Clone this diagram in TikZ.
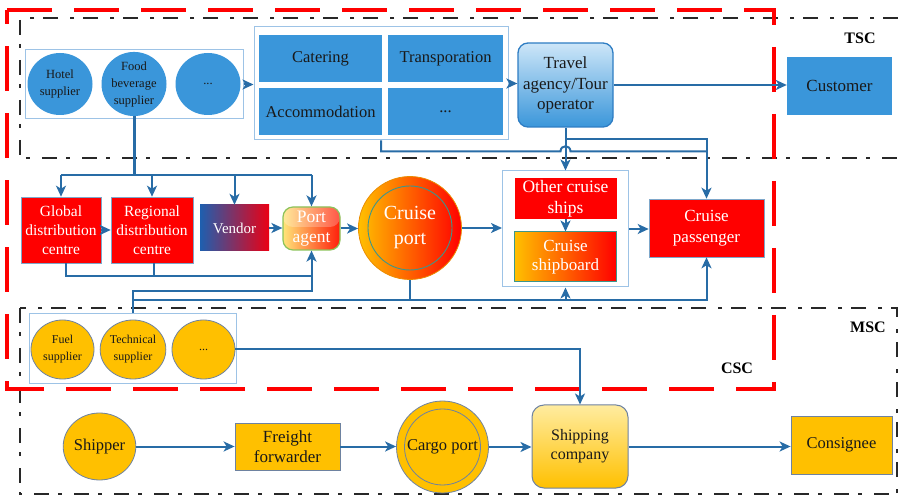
\documentclass[tikz,border=0pt]{standalone}
\usepackage{fontspec}
\setmainfont{Liberation Serif}
\usetikzlibrary{arrows.meta,shapes.geometric}
\definecolor{fillblue}{RGB}{58,150,218}
\definecolor{connblue}{RGB}{40,108,166}
\definecolor{boxline}{RGB}{157,195,230}
\definecolor{gold}{RGB}{255,192,0}
\definecolor{dashgray}{RGB}{40,40,40}
\definecolor{redc}{RGB}{255,0,0}
\definecolor{darktext}{RGB}{25,25,25}
\definecolor{goldedge}{RGB}{110,130,160}
\definecolor{tealedge}{RGB}{60,150,140}
\tikzset{
  conn/.style={draw=connblue, line width=2pt},
  arr/.style={conn, -{Stealth[length=11pt,width=10pt,inset=3pt]}},
  zone/.style={draw=dashgray, line width=1.8pt, dash pattern=on 15pt off 9pt on 4pt off 12pt},
  cscline/.style={draw=redc, line width=4pt, dash pattern=on 45pt off 22pt},
  holder/.style={draw=boxline, fill=white, line width=1pt, inner sep=0pt},
  bcirc/.style={ellipse, fill=fillblue, inner sep=0pt, align=center, text=darktext,
    minimum width=65pt, minimum height=62pt, font=\fontsize{12.5}{17}\selectfont},
  bbox/.style={rectangle, fill=fillblue, inner sep=0pt, align=center, text=darktext,
    font=\fontsize{16.5}{19}\selectfont},
  redbox/.style={rectangle, fill=redc, draw=connblue!60, line width=0.6pt, inner sep=0pt,
    align=center, text=white},
  gcirc/.style={ellipse, fill=gold, draw=goldedge, line width=0.8pt, inner sep=0pt,
    align=center, text=darktext},
  gbox/.style={rectangle, fill=gold, draw=goldedge, line width=0.8pt, inner sep=0pt,
    align=center, text=darktext},
  zlabel/.style={font=\fontsize{16}{18}\selectfont\bfseries, text=black, inner sep=0pt}
}
\begin{document}
\begin{tikzpicture}[x=1pt,y=-1pt]
\useasboundingbox (0,0) rectangle (898,497);
% zones
\draw[zone] (898,18) -- (20,18) -- (20,158) -- (898,158);
\draw[zone] (20,308) rectangle (897,494);
\draw[cscline] (7,10) -- (774,10) -- (774,389) -- (7,389) -- cycle;
\node[zlabel] (tsc) at (860,38) {TSC};
\node[zlabel] (msc) at (868,327) {MSC};
\node[zlabel] (csc) at (737,368) {CSC};

% top row
\node[holder, minimum width=218pt, minimum height=69pt] (supc) at (134,84.5) {};
\node[bcirc] (hotel) at (60,84) {Hotel\\supplier};
\node[bcirc] (food) at (134,84) {Food\\beverage\\supplier};
\node[bcirc] (dotsa) at (208,84) {...};

\node[holder, minimum width=254pt, minimum height=113pt] (servc) at (381,83.5) {};
\node[bbox, minimum width=123pt, minimum height=47pt] (catering) at (320.5,58.5) {Catering};
\node[bbox, minimum width=115pt, minimum height=47pt] (transp) at (445.5,58.5) {Transporation};
\node[bbox, minimum width=123pt, minimum height=47pt] (accom) at (320.5,111.5) {Accommodation};
\node[bbox, minimum width=115pt, minimum height=47pt] (dotsb) at (445.5,111.5) {...};

\node[rectangle, rounded corners=10pt, top color={rgb,255:red,205;green,230;blue,248}, bottom color=fillblue,
  draw={rgb,255:red,46;green,125;blue,195}, line width=1.3pt, minimum width=95pt, minimum height=84pt,
  inner sep=0pt, align=center, text=darktext, font=\fontsize{17}{20.5}\selectfont] (travel) at (565.5,85)
  {Travel\\agency/Tour\\operator};
\node[bbox, minimum width=105pt, minimum height=58pt, font=\fontsize{17}{19}\selectfont] (customer) at (839.5,86) {Customer};

\draw[arr] (supc.east) -- (supc.east -| servc.west);
\draw[arr] (servc.east) -- (servc.east -| travel.west);
\draw[arr] (travel.east) -- (travel.east -| customer.west);

% middle row
\node[redbox, minimum width=80pt, minimum height=66pt, font=\fontsize{15.5}{19}\selectfont] (global) at (61,230) {Global\\distribution\\centre};
\node[redbox, minimum width=82pt, minimum height=66pt, font=\fontsize{15.5}{19}\selectfont] (regional) at (152,230) {Regional\\distribution\\centre};
\node[rectangle, left color={rgb,255:red,30;green,95;blue,175}, right color={rgb,255:red,235;green,0;blue,20},
  minimum width=69pt, minimum height=46pt, inner sep=0pt, text=white, font=\fontsize{15}{18}\selectfont] (vendor) at (234.5,228) {Vendor};
\node[rectangle, rounded corners=10pt, left color={rgb,255:red,255;green,228;blue,120}, right color={rgb,255:red,255;green,30;blue,10},
  draw={rgb,255:red,140;green,195;blue,90}, line width=1.2pt, minimum width=57pt, minimum height=43pt,
  inner sep=0pt, align=center, text=white, font=\fontsize{17.5}{20}\selectfont,
  path picture={\fill[white, opacity=0.25] (path picture bounding box.north west) rectangle ([yshift=-20pt]path picture bounding box.north east);}] (port) at (311.5,228.5) {Port\\agent};
\node[circle, left color=gold, right color=redc, draw={rgb,255:red,235;green,140;blue,0}, line width=0.8pt,
  minimum size=103pt, inner sep=0pt, align=center, text=white, font=\fontsize{20}{25}\selectfont] (cport) at (410,228) {Cruise\\port};
\draw[tealedge, line width=0.9pt] (cport.center) circle (42pt);

\node[holder, minimum width=126pt, minimum height=116pt] (shipc) at (565.5,229) {};
\node[redbox, draw=none, minimum width=102pt, minimum height=41pt, font=\fontsize{17.5}{21}\selectfont] (other) at (565.5,198.5) {Other cruise\\ships};
\node[rectangle, left color=gold, right color=redc, draw=tealedge, line width=1pt, minimum width=102pt, minimum height=50pt,
  inner sep=0pt, align=center, text=white, font=\fontsize{17}{19.5}\selectfont] (shipboard) at (565.5,257) {Cruise\\shipboard};
\node[redbox, minimum width=115pt, minimum height=58pt, font=\fontsize{17}{21}\selectfont] (passenger) at (706.5,228) {Cruise\\passenger};

% bottom (CSC/MSC)
\node[holder, minimum width=207pt, minimum height=70pt] (fuelc) at (133,349) {};
\node[gcirc, minimum width=63pt, minimum height=59pt, font=\fontsize{12}{17}\selectfont] (fuel) at (62.5,349.5) {Fuel\\supplier};
\node[gcirc, minimum width=63pt, minimum height=59pt, font=\fontsize{12}{17}\selectfont] (tech) at (133,349.5) {Technical\\supplier};
\node[gcirc, minimum width=63pt, minimum height=59pt, font=\fontsize{12}{17}\selectfont] (dotsc) at (203.5,349.5) {...};

\node[gcirc, minimum width=71pt, minimum height=67pt, font=\fontsize{16.5}{19}\selectfont] (shipper) at (99.5,446.5) {Shipper};
\node[gbox, minimum width=105pt, minimum height=47pt, font=\fontsize{17}{19.5}\selectfont] (freight) at (287.5,446.5) {Freight\\forwarder};
\node[circle, fill=gold, draw=goldedge, line width=0.8pt, minimum size=92pt, inner sep=0pt, text=darktext,
  font=\fontsize{16.5}{19}\selectfont] (cargo) at (442.5,447) {Cargo port};
\draw[goldedge, line width=0.8pt] (cargo.center) circle (38pt);
\node[rectangle, rounded corners=12pt, top color={rgb,255:red,255;green,236;blue,160}, bottom color=gold,
  draw=goldedge, line width=1pt, minimum width=96pt, minimum height=83pt, inner sep=0pt, align=center,
  text=darktext, font=\fontsize{16}{19}\selectfont] (shipping) at (580,446.5) {Shipping\\company};
\node[gbox, minimum width=101pt, minimum height=58pt, font=\fontsize{16.5}{19}\selectfont] (consignee) at (841.5,445) {Consignee};

% connectors top -> middle
\coordinate (bus) at (134,175);
\draw[conn, line width=3pt] (food.south) -- (bus);
\draw[conn] (bus -| global.north) -- (bus -| port.north);
\draw[arr] (bus -| global.north) -- (global.north);
\draw[arr] (bus -| regional.north) -- (regional.north);
\draw[arr] (bus -| vendor.north) -- (vendor.north);
\draw[arr] (bus -| port.north) -- (port.north);

\draw[arr] (travel.south) -- (shipc.north);
\draw[arr] ([yshift=-11pt]travel.south) -- ([yshift=-11pt]travel.south -| passenger.north) -- (passenger.north);
\draw[conn] (servc.south) -- ++(0,11) coordinate (s1) -- ([xshift=-5pt]s1 -| travel.south)
  .. controls +(0,-7) and +(0,-7) .. ([xshift=5pt]s1 -| travel.south) -- (s1 -| passenger.north);

% middle row connectors
\draw[arr] (global.east) -- (regional.west);
\draw[arr] (vendor.east) -- (vendor.east -| port.west);
\draw[arr] (port.east) -- (port.east -| cport.west);
\draw[arr] (cport.east) -- (cport.east -| shipc.west);
\draw[arr] (other.south) -- (shipboard.north);
\draw[arr] (shipc.east) -- (shipc.east -| passenger.west);

\coordinate (b1) at (0,276);
\coordinate (b2) at (0,291);
\coordinate (b3) at (0,300);
\draw[conn] ([xshift=5pt]global.south) -- ([xshift=5pt]global.south |- b1) -- (b1 -| port.south);
\draw[conn] ([xshift=2pt]regional.south) -- ([xshift=2pt]regional.south |- b1);
\draw[arr] (fuelc.north) -- (fuelc.north |- b2) -- (b2 -| port.south) -- (port.south);
\draw[arr] (fuelc.north |- b3) -- (b3 -| passenger.south) -- (passenger.south);
\draw[arr] (b3 -| shipc.south) -- (shipc.south);
\draw[conn] (cport.south) -- (cport.south |- b3);

% bottom connectors
\draw[arr] (dotsc.east) -- (dotsc.east -| shipping.north) -- (shipping.north);
\draw[arr] (shipper.east) -- (shipper.east -| freight.west);
\draw[arr] (freight.east) -- (freight.east -| cargo.west);
\draw[arr] (cargo.east) -- (cargo.east -| shipping.west);
\draw[arr] (shipping.east) -- (shipping.east -| consignee.west);
\end{tikzpicture}
\end{document}
